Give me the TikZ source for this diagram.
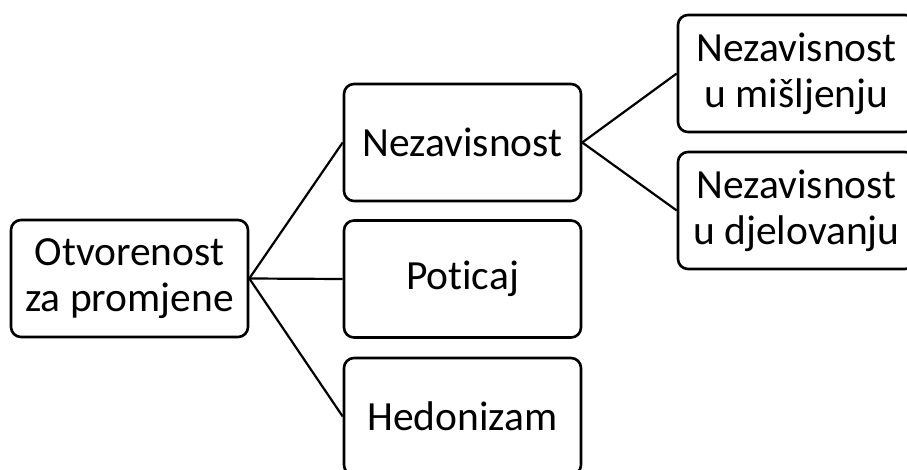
\documentclass[tikz,border=0pt]{standalone}
\usepackage{fontspec}
\setmainfont{Carlito}[Ligatures=NoCommon]
\begin{document}
\begin{tikzpicture}[x=1pt,y=-1pt,
  box/.style={draw, line width=2.6pt, rounded corners=10pt, minimum width=237pt,
    minimum height=117pt, align=center, inner sep=0pt,
    font=\fontsize{41.5}{46}\selectfont},
  conn/.style={line width=2.2pt}]
\useasboundingbox (0,0) rectangle (907,470);
\clip (0,0) rectangle (907,470);
\node[box] (root) at (129.5,278.5) {Otvorenost\\za promjene};
\node[box] (nez) at (462.5,142.5) {Nezavisnost};
\node[box] (pot) at (462.5,279) {Poticaj};
\node[box] (hed) at (462.5,416.5) {Hedonizam};
\node[box] (mis) at (796.5,73.5) {Nezavisnost\\u mišljenju};
\node[box] (dje) at (796.5,210.5) {Nezavisnost\\u djelovanju};
\draw[conn] (root.east) -- (nez.west);
\draw[conn] (root.east) -- (pot.west);
\draw[conn] (root.east) -- (hed.west);
\draw[conn] (nez.east) -- (mis.west);
\draw[conn] (nez.east) -- (dje.west);
\end{tikzpicture}
\end{document}
